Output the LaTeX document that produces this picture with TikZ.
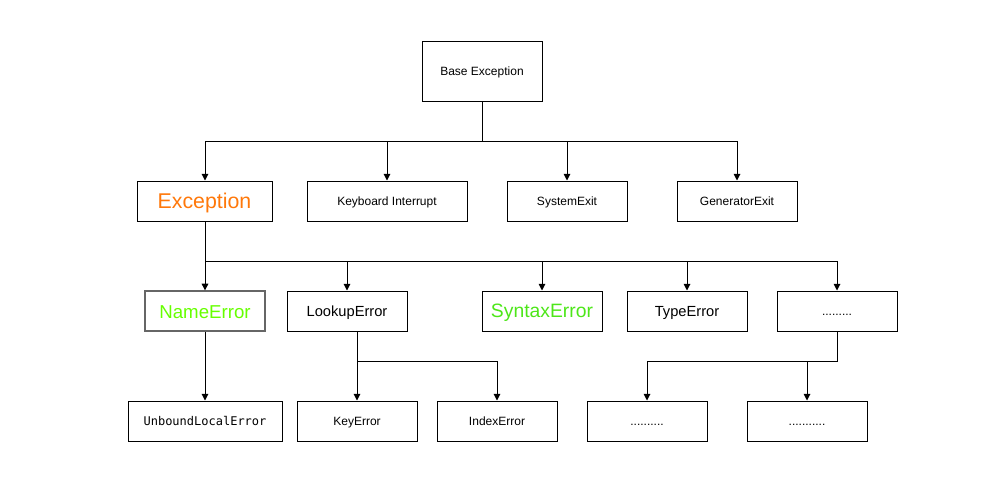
\documentclass[tikz,border=0pt]{standalone}
\usepackage{fontspec}
\setmainfont{Liberation Sans}
\newfontfamily\monof{DejaVu Sans Mono}
\usetikzlibrary{arrows.meta}
\definecolor{exorange}{RGB}{255,120,10}
\definecolor{ngreen}{RGB}{102,255,0}
\definecolor{sgreen}{RGB}{77,230,25}
\newcommand\boxstrut{\rule[-0.1em]{0pt}{1em}}
\begin{document}
\begin{tikzpicture}[x=0.75pt,y=-0.75pt,
  box/.style={draw=black,line width=0.75pt,minimum height=30pt,inner sep=0pt,execute at begin node=\boxstrut,font=\fontsize{9}{11}\selectfont},
  conn/.style={line width=0.75pt,-{Triangle[width=5pt,length=5pt]}},
  seg/.style={line width=0.75pt}]
\useasboundingbox (0,0) rectangle (1000,500);
% row 1
\node[box,minimum width=90pt,minimum height=45pt] (base) at (482,71) {Base Exception};
% row 2
\node[box,minimum width=101.25pt,font=\fontsize{16}{19}\selectfont,text=exorange] (exc) at (204.5,201) {Exception};
\node[box,minimum width=120pt] (kbd) at (387,201) {Keyboard Interrupt};
\node[box,minimum width=90pt] (sys) at (567,201) {SystemExit};
\node[box,minimum width=90pt] (gen) at (737,201) {GeneratorExit};
% row 3
\node[box,draw=black!60,line width=1pt,minimum width=90pt,font=\fontsize{14}{17}\selectfont,text=ngreen] (name) at (205,311) {NameError};
\node[box,minimum width=90pt,font=\fontsize{11}{13}\selectfont] (look) at (347,311) {LookupError};
\node[box,minimum width=90pt,font=\fontsize{14.5}{17}\selectfont,text=sgreen] (syn) at (542,311) {SyntaxError};
\node[box,minimum width=90pt,font=\fontsize{11}{13}\selectfont] (type) at (687,311) {TypeError};
\node[box,minimum width=90pt] (dots) at (837,311) {.........};
% row 4
\node[box,minimum width=115.5pt,font=\monof\fontsize{9}{11}\selectfont] (unb) at (205,421) {UnboundLocalError};
\node[box,minimum width=90pt] (key) at (357,421) {KeyError};
\node[box,minimum width=90pt] (idx) at (497,421) {IndexError};
\node[box,minimum width=90pt] (d1) at (647,421) {..........};
\node[box,minimum width=90pt] (d2) at (807,421) {...........};
% junctions
\coordinate (j1) at (482,141);
\coordinate (j2) at (205,261);
\coordinate (j3) at (357,361);
\coordinate (j4) at (837,361);
% base -> row 2
\draw[seg] (base.south) -- (j1);
\draw[seg] (j1 -| j2) -- (gen.north |- j1);
\draw[conn] (j1 -| j2) -- (exc.north -| j2);
\draw[conn] (kbd.north |- j1) -- (kbd.north);
\draw[conn] (sys.north |- j1) -- (sys.north);
\draw[conn] (gen.north |- j1) -- (gen.north);
% exception -> row 3
\draw[seg] (exc.south -| j2) -- (j2);
\draw[seg] (j2) -- (dots.north |- j2);
\draw[conn] (name.north |- j2) -- (name.north);
\draw[conn] (look.north |- j2) -- (look.north);
\draw[conn] (syn.north |- j2) -- (syn.north);
\draw[conn] (type.north |- j2) -- (type.north);
\draw[conn] (dots.north |- j2) -- (dots.north);
% name -> unbound
\draw[conn] (name.south) -- (unb.north);
% lookup -> key, index
\draw[seg] (look.south -| j3) -- (j3) -- (idx.north |- j3);
\draw[conn] (j3) -- (key.north);
\draw[conn] (idx.north |- j3) -- (idx.north);
% dots -> d1, d2
\draw[seg] (dots.south) -- (j4) -- (d1.north |- j4);
\draw[conn] (d1.north |- j4) -- (d1.north);
\draw[conn] (d2.north |- j4) -- (d2.north);
\end{tikzpicture}
\end{document}
